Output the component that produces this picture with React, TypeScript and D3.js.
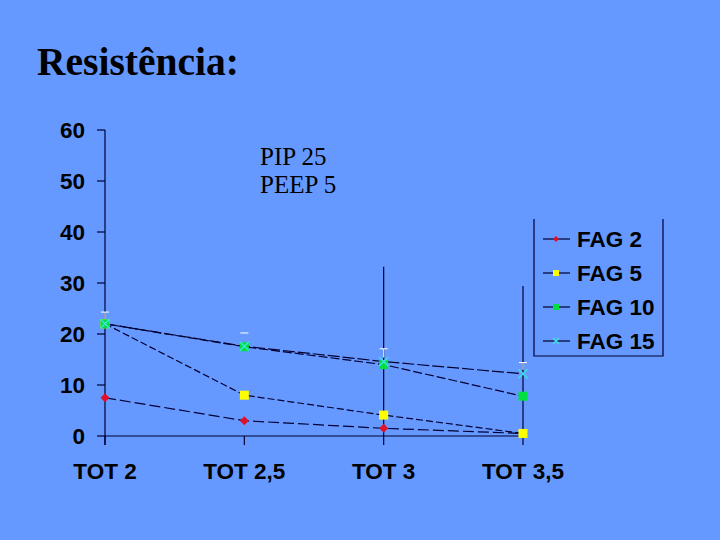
import React from 'react';
import * as d3 from 'd3';

const categories = ['TOT 2', 'TOT 2,5', 'TOT 3', 'TOT 3,5'];
const fag2 = [7.5, 3, 1.5, 0.5];
const fag5 = [22, 8, 4.1, 0.5];
const fag10 = [22, 17.5, 14, 7.8];
const fag15 = [22, 17.6, 14.6, 12.2];
const whiteErrUpper = [24.3, 20.2, 17.1, 14.4];
const blackErrUpper = [null, null, 33.2, 29.4];
const yTicks = [0, 10, 20, 30, 40, 50, 60];

const series = [
  { name: 'FAG 2', values: fag2, color: '#e0102a', marker: 'diamond', dash: '11,4' },
  { name: 'FAG 5', values: fag5, color: '#ffff00', marker: 'square', dash: '7,3' },
  { name: 'FAG 10', values: fag10, color: '#00e040', marker: 'square', dash: '9,3' },
  { name: 'FAG 15', values: fag15, color: '#40e0e0', marker: 'x', dash: '12,3' },
];

const lineColor = '#000033';
const bg = '#6699ff';

const Marker = (props: { type: string; x: number; y: number; color: string; small?: boolean }) => {
  const { type, x, y, color, small } = props;
  const s = small ? 3 : 4.5;
  if (type === 'diamond') {
    return <path d={`M${x},${y - s}L${x + s},${y}L${x},${y + s}L${x - s},${y}Z`} fill={color} />;
  }
  if (type === 'square') {
    return <rect x={x - s} y={y - s} width={s * 2} height={s * 2} fill={color} />;
  }
  return (
    <path d={`M${x - s},${y - s}L${x + s},${y + s}M${x - s},${y + s}L${x + s},${y - s}`} stroke={color} strokeWidth={1.5} />
  );
};

const App = () => {
  const x = d3.scalePoint<string>().domain(categories).range([105, 523]);
  const y = d3.scaleLinear().domain([0, 60]).range([436, 130]);

  const line = (vals: number[]) =>
    d3.line<number>()
      .x((d, i) => x(categories[i]) as number)
      .y(d => y(d))(vals) as string;

  const fontSans = 'Liberation Sans, Arial, sans-serif';
  const fontSerif = 'Liberation Serif, Times New Roman, serif';

  return (
    <svg width={720} height={540} style={{ position: 'fixed', left: 0, top: 0 }}>
      <rect width={720} height={540} fill={bg} />
      <text x={37} y={75} fontFamily={fontSerif} fontWeight="bold" fontSize={39.5} fill="#000">Resistência:</text>

      <text x={260} y={165} fontFamily={fontSerif} fontSize={25} fill="#000">PIP 25</text>
      <text x={260} y={193} fontFamily={fontSerif} fontSize={25} fill="#000">PEEP 5</text>

      {/* y axis */}
      <line x1={105} x2={105} y1={y(60)} y2={445} stroke={lineColor} strokeWidth={1.2} />
      {yTicks.map(t => (
        <g key={t}>
          <line x1={97} x2={105} y1={y(t)} y2={y(t)} stroke={lineColor} strokeWidth={1.2} />
          <text x={85} y={y(t)} dy="0.36em" textAnchor="end" fontFamily={fontSans} fontWeight="bold" fontSize={22.5} fill="#000">{t}</text>
        </g>
      ))}

      {/* x axis */}
      <line x1={105} x2={x(categories[3]) as number} y1={y(0)} y2={y(0)} stroke={lineColor} strokeWidth={1.2} />
      {categories.map(c => (
        <g key={c}>
          <line x1={x(c) as number} x2={x(c) as number} y1={y(0)} y2={445} stroke={lineColor} strokeWidth={1.2} />
          <text x={x(c) as number} y={479} textAnchor="middle" fontFamily={fontSans} fontWeight="bold" fontSize={22.5} fill="#000">{c}</text>
        </g>
      ))}

      {/* black error bars */}
      {blackErrUpper.map((u, i) => u == null ? null : (
        <line key={'b' + i} x1={x(categories[i]) as number} x2={x(categories[i]) as number} y1={y(0)} y2={y(u)} stroke={lineColor} strokeWidth={1.2} />
      ))}

      {/* white error bars */}
      {whiteErrUpper.map((u, i) => {
        const cx = x(categories[i]) as number;
        return (
          <g key={'w' + i}>
            {i !== 1 && <line x1={cx} x2={cx} y1={y(fag15[i]) - 4} y2={y(u)} stroke="#fff" />}
            <line x1={cx - 4} x2={cx + 4} y1={y(u)} y2={y(u)} stroke="#fff" />
          </g>
        );
      })}

      {series.map(s => (
        <path key={s.name} d={line(s.values)} fill="none" stroke={lineColor} strokeWidth={1.2} strokeDasharray={s.dash} />
      ))}
      {series.map(s => (
        <g key={s.name + 'm'}>
          {s.values.map((v, i) => (
            <Marker key={i} type={s.marker} x={x(categories[i]) as number} y={y(v)} color={s.color} />
          ))}
        </g>
      ))}

      {/* legend */}
      <path d="M534,219V356H663V219" fill="none" stroke={lineColor} strokeWidth={1.2} />
      {series.map((s, i) => {
        const ly = 239 + i * 34;
        return (
          <g key={s.name + 'l'}>
            <line x1={543} x2={570} y1={ly} y2={ly} stroke={lineColor} strokeWidth={1.2} />
            <Marker type={s.marker} x={556} y={ly} color={s.color} small />
            <text x={577} y={ly} dy="0.36em" fontFamily={fontSans} fontWeight="bold" fontSize={22.5} fill="#000">{s.name}</text>
          </g>
        );
      })}
    </svg>
  );
};

export default App;
